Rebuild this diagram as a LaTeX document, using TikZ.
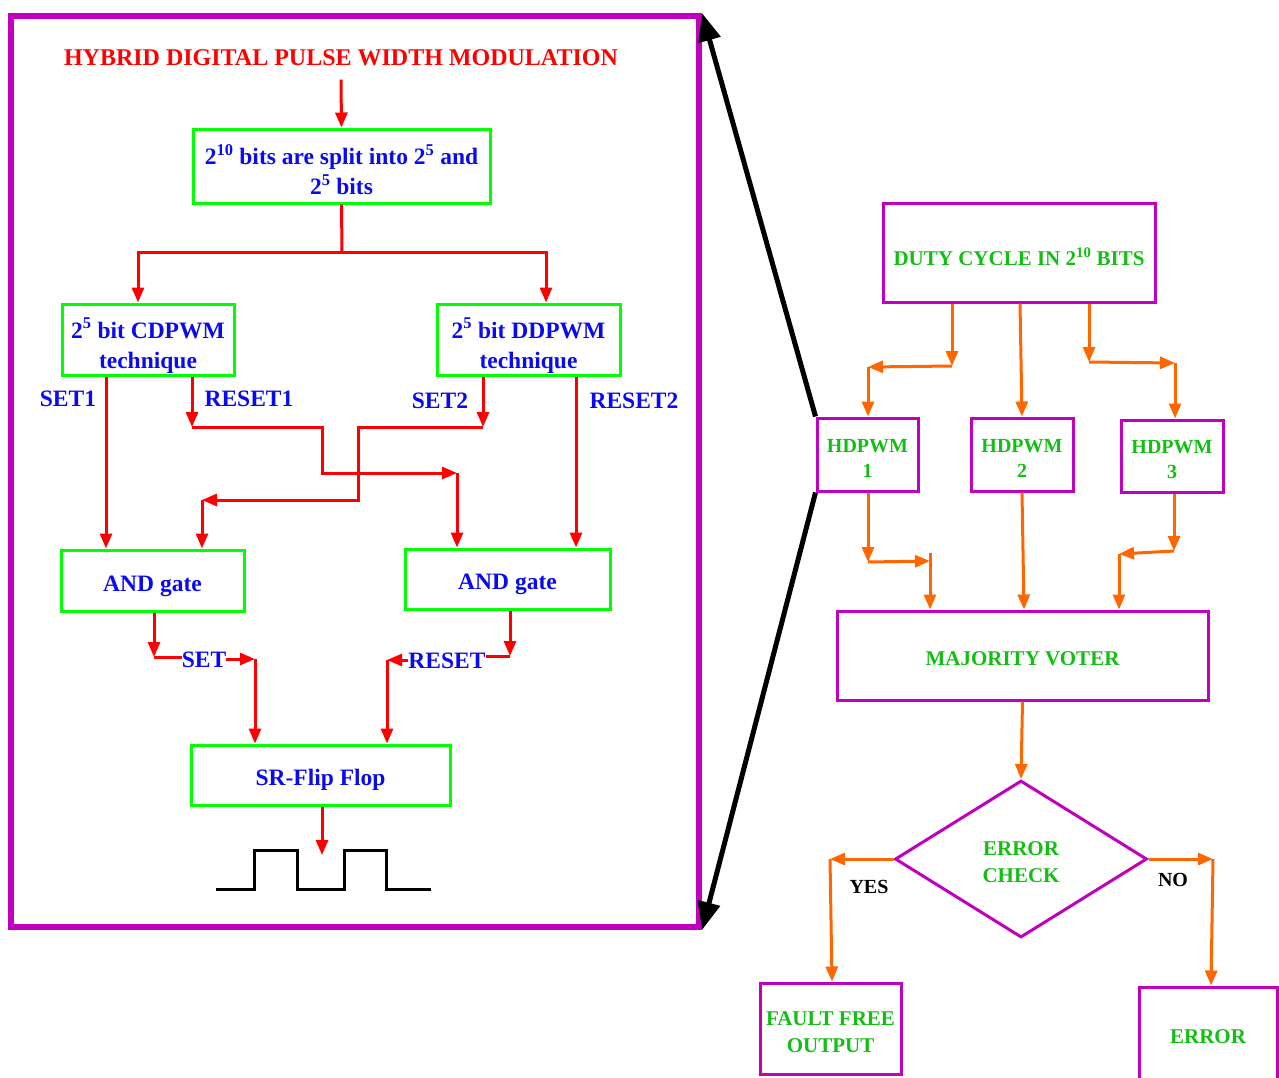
\documentclass[tikz,border=0pt]{standalone}
\usepackage{fontspec}
\setmainfont{Liberation Serif}
\usetikzlibrary{arrows.meta,shapes.geometric}
\definecolor{mag}{RGB}{191,0,191}
\definecolor{limeg}{RGB}{0,255,0}
\definecolor{bluet}{RGB}{10,10,240}
\definecolor{greent}{RGB}{20,190,20}
\definecolor{orng}{RGB}{255,102,0}
\definecolor{redl}{RGB}{255,0,0}
\newcommand\bluefont{\fontsize{23.5}{30}\selectfont\bfseries}
\newcommand\greenfont{\fontsize{21}{27}\selectfont\bfseries}
\newcommand\pushdn[1]{\rule{0pt}{#1}}
\begin{document}
\begin{tikzpicture}[x=1pt,y=-1pt,
  gbox/.style={draw=limeg, line width=3pt, rectangle, inner sep=0pt, text=bluet, font=\bluefont, align=center},
  mbox/.style={draw=mag, line width=3pt, rectangle, inner sep=0pt, text=greent, font=\greenfont, align=center},
  rar/.style={draw=redl, line width=3pt, -{Triangle[length=15pt,width=12pt]}},
  rln/.style={draw=redl, line width=3pt},
  oar/.style={draw=orng, line width=3pt, -{Triangle[length=15pt,width=12pt]}},
  blab/.style={text=bluet, font=\bluefont, inner sep=1pt},
  klab/.style={text=black, font=\fontsize{20}{24}\selectfont\bfseries, inner sep=1pt},
  barr/.style={draw=black, line width=5pt, -{Triangle[length=28pt,width=22pt]}}
]
\useasboundingbox (0,0) rectangle (1279,1077);
\clip (0,0) rectangle (1279,1077);

% frame
\node[draw=mag, line width=6pt, minimum width=688pt, minimum height=911pt, inner sep=0pt] (frame) at (355,471.5) {};

% left flow
\node[text=redl, font=\fontsize{24}{28}\selectfont\bfseries] (title) at (341,58) {HYBRID DIGITAL PULSE WIDTH MODULATION};
\node[gbox, minimum width=297pt, minimum height=74pt] (box1) at (341.5,166) {\pushdn{27pt}2\textsuperscript{10} bits are split into 2\textsuperscript{5} and\\2\textsuperscript{5} bits};
\node[gbox, minimum width=172pt, minimum height=71pt] (cd) at (148,339.5) {\pushdn{32pt}2\textsuperscript{5} bit CDPWM\\technique};
\node[gbox, minimum width=183pt, minimum height=71pt] (dd) at (528.5,339.5) {\pushdn{32pt}2\textsuperscript{5} bit DDPWM\\technique};
\node[gbox, minimum width=183pt, minimum height=61pt] (and1) at (152.5,580.5) {\pushdn{28pt}AND gate};
\node[gbox, minimum width=205pt, minimum height=60pt] (and2) at (507.5,579) {\pushdn{26pt}AND gate};
\node[gbox, minimum width=259pt, minimum height=60pt] (sr) at (320.5,775) {\pushdn{26pt}SR-Flip Flop};

\node[blab] (lset1) at (68,399) {SET1};
\node[blab] (lreset1) at (249,399) {RESET1};
\node[blab] (lset2) at (440,401) {SET2};
\node[blab] (lreset2) at (634,401) {RESET2};

\draw[rar] ([yshift=-10pt]title.south) -- (box1.north);
\coordinate (sp) at (342,252);
\draw[rln] (box1.south) -- (sp);
\draw[rar] (sp) -| ([xshift=-10pt]cd.north);
\draw[rar] (sp) -| ([xshift=17.5pt]dd.north);

% SET1
\draw[rar] ([xshift=-42pt]cd.south) -- ([xshift=-46.5pt]and1.north);
% RESET1
\coordinate (r1a) at (192,427);
\coordinate (r1b) at (322,427);
\coordinate (r1c) at (322,473);
\coordinate (r1d) at (457,473);
\draw[rar] ([xshift=44pt]cd.south) -- (r1a);
\draw[rar] (r1a) -- (r1b) -- (r1c) -- (r1d);
\draw[rar] (r1d) -- ([xshift=-50.5pt]and2.north);
% SET2
\coordinate (s2a) at (483,427);
\coordinate (s2b) at (358,427);
\coordinate (s2c) at (358,500);
\coordinate (s2d) at (202,500);
\draw[rar] ([xshift=-45.5pt]dd.south) -- (s2a);
\draw[rar] (s2a) -- (s2b) -- (s2c) -- (s2d);
\draw[rar] (s2d) -- ([xshift=49.5pt]and1.north);
% RESET2
\draw[rar] ([xshift=47.5pt]dd.south) -- ([xshift=68.5pt]and2.north);

% AND outputs
\coordinate (a1) at (154,657);
\draw[rar] ([xshift=1.5pt]and1.south) -- (a1);
\node[blab, inner sep=0pt] (lset) at (204,660) {SET};
\draw[rln] (a1) -- (a1 -| lset.west);
\coordinate (a2) at (255,659);
\draw[rar] (lset.east |- a2) -- (a2);
\draw[rar] (a2) -- ([xshift=-65.5pt]sr.north);

\coordinate (b1) at (510,656);
\draw[rar] ([xshift=2.5pt]and2.south) -- (b1);
\node[blab, inner sep=0pt] (lreset) at (447,661) {RESET};
\draw[rln] (b1) -- (b1 -| lreset.east);
\coordinate (b2) at (387,660);
\draw[rar] (lreset.west |- b2) -- (b2);
\draw[rar] (b2) -- ([xshift=66.5pt]sr.north);

\coordinate (w0) at (322,855);
\draw[rar] ([xshift=1.5pt]sr.south) -- (w0);
\draw[line width=3pt] (216,889) -- (254,889) -- (254,850) -- (297,850) -- (297,889) -- (344,889) -- (344,850) -- (386,850) -- (386,889) -- (431,889);

% right flow
\node[mbox, minimum width=272pt, minimum height=99pt] (duty) at (1019,252.5) {\pushdn{26pt}DUTY CYCLE IN 2\textsuperscript{10} BITS};
\node[mbox, minimum width=101pt, minimum height=73pt, font=\fontsize{20}{25}\selectfont\bfseries] (h1) at (867.5,454.5) {\pushdn{20pt}HDPWM\\1};
\node[mbox, minimum width=102pt, minimum height=73pt, font=\fontsize{20}{25}\selectfont\bfseries] (h2) at (1022,454.5) {\pushdn{20pt}HDPWM\\2};
\node[mbox, minimum width=102pt, minimum height=72pt, font=\fontsize{20}{25}\selectfont\bfseries] (h3) at (1172,456) {\pushdn{20pt}HDPWM\\3};
\node[mbox, minimum width=371pt, minimum height=89pt] (mv) at (1022.5,655.5) {\pushdn{20pt}MAJORITY VOTER};
\node[diamond, draw=mag, line width=3pt, minimum width=252pt, minimum height=157pt, inner sep=0pt, text=greent, font=\greenfont, align=center] (dia) at (1021,859) {\pushdn{20pt}ERROR\\CHECK};
\node[mbox, minimum width=141pt, minimum height=91pt] (ff) at (830.5,1028.5) {\pushdn{22pt}FAULT FREE\\OUTPUT};
\node[mbox, minimum width=138pt, minimum height=103pt] (err) at (1208,1038.5) {\rule[-4pt]{0pt}{4pt}ERROR};

\node[klab] (yes) at (869,887) {YES};
\node[klab] (no) at (1173,880) {NO};

% black arrows
\draw[barr] (h1.north west) -- (frame.north east);
\draw[barr] (h1.south west) -- (frame.south east);

% orange connectors
\coordinate (o1a) at (952,366);
\coordinate (o1b) at (868,367);
\draw[oar] ([xshift=-67pt]duty.south) -- (o1a);
\draw[oar] (o1a) -- (o1b);
\draw[oar] (o1b) -- ([xshift=0.5pt]h1.north);
\draw[oar] ([xshift=1pt]duty.south) -- (h2.north);
\coordinate (o3a) at (1089,362);
\coordinate (o3b) at (1175,363);
\draw[oar] ([xshift=70pt]duty.south) -- (o3a);
\draw[oar] (o3a) -- (o3b);
\draw[oar] (o3b) -- ([xshift=3pt]h3.north);

\coordinate (p1a) at (868,562);
\coordinate (p1b) at (930,561);
\draw[oar] ([xshift=0.5pt]h1.south) -- (p1a);
\draw[oar] (p1a) -- (p1b);
\draw[oar] ([yshift=8pt]p1b) -- ([xshift=-92.5pt]mv.north);
\draw[oar] (h2.south) -- ([xshift=1.5pt]mv.north);
\coordinate (p3a) at (1174,551);
\coordinate (p3b) at (1119,554);
\draw[oar] ([xshift=2pt]h3.south) -- (p3a);
\draw[oar] (p3a) -- (p3b);
\draw[oar] (p3b) -- ([xshift=96.5pt]mv.north);

\draw[oar] (mv.south) -- (dia.north);
\coordinate (y1) at (830,859);
\draw[oar] (dia.west) -- (y1);
\draw[oar] (y1) -- ([xshift=1.5pt]ff.north);
\coordinate (n1) at (1213,859);
\draw[oar] (dia.east) -- (n1);
\draw[oar] (n1) -- ([xshift=3pt]err.north);
\end{tikzpicture}
\end{document}
